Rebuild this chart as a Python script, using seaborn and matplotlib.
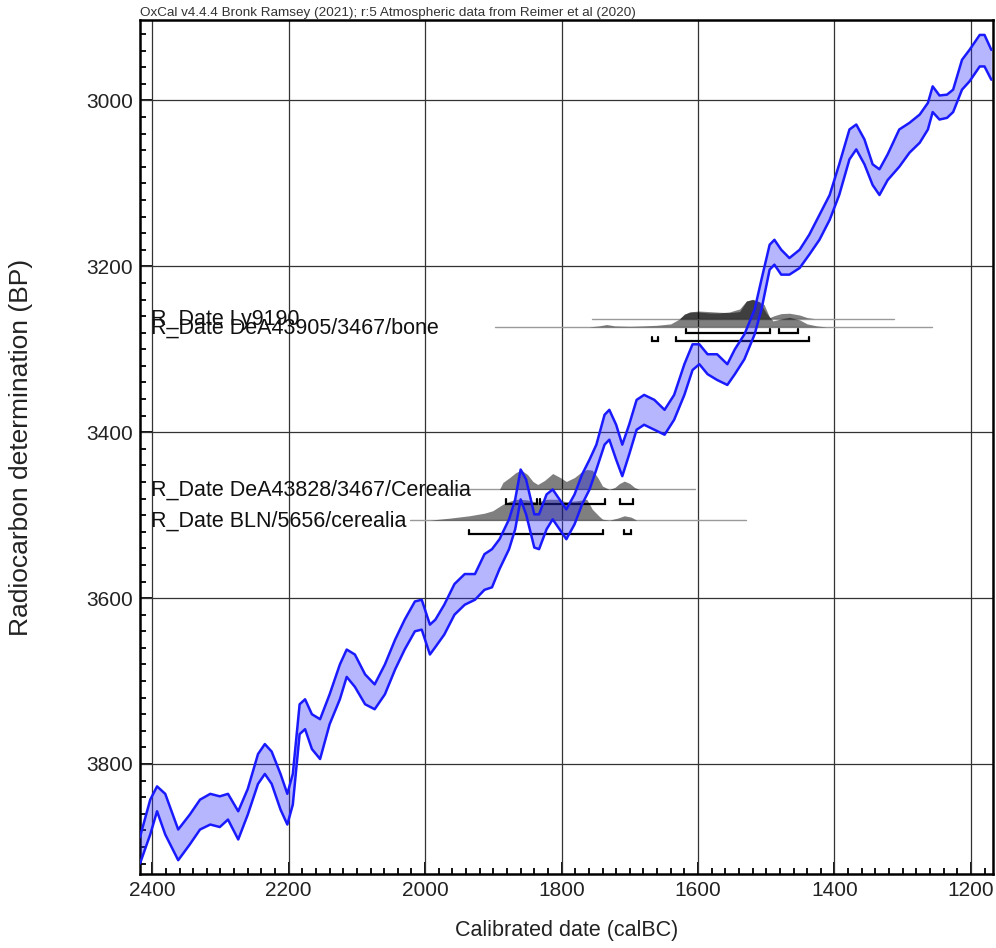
import numpy as np
import pandas as pd
import matplotlib
matplotlib.use("Agg")
import matplotlib.pyplot as plt
from matplotlib.ticker import MultipleLocator
import seaborn as sns

# IntCal20 calibration band (1 sigma), calBC vs radiocarbon age
cal_bc = [2418, 2403, 2393, 2381, 2362, 2345, 2330, 2315, 2301, 2289, 2274, 2260,
          2245, 2235, 2225, 2212, 2202, 2194, 2184, 2176, 2166, 2154, 2140, 2125,
          2115, 2103, 2088, 2074, 2059, 2044, 2030, 2015, 2005, 1993, 1985, 1972,
          1957, 1942, 1927, 1913, 1902, 1891, 1877, 1868, 1860, 1852, 1840, 1833,
          1822, 1813, 1803, 1793, 1781, 1770, 1759, 1749, 1737, 1730, 1720, 1711,
          1701, 1690, 1679, 1664, 1649, 1635, 1620, 1608, 1598, 1586, 1572, 1557,
          1546, 1532, 1517, 1507, 1495, 1488, 1478, 1466, 1451, 1437, 1422, 1407,
          1393, 1378, 1368, 1356, 1344, 1334, 1322, 1305, 1290, 1275, 1263, 1256,
          1246, 1235, 1226, 1213, 1202, 1187, 1180, 1170]
bp_young = [3888, 3843, 3827, 3836, 3879, 3861, 3843, 3836, 3839, 3836, 3857, 3830,
            3788, 3776, 3785, 3812, 3836, 3812, 3728, 3722, 3740, 3746, 3716, 3680,
            3662, 3668, 3692, 3704, 3680, 3650, 3626, 3604, 3602, 3632, 3626, 3608,
            3583, 3571, 3571, 3547, 3541, 3529, 3505, 3481, 3445, 3457, 3499, 3499,
            3475, 3469, 3481, 3493, 3475, 3451, 3433, 3415, 3379, 3373, 3391, 3415,
            3391, 3361, 3355, 3361, 3373, 3355, 3318, 3294, 3294, 3306, 3306, 3318,
            3300, 3282, 3252, 3216, 3174, 3168, 3180, 3190, 3180, 3162, 3138, 3114,
            3077, 3035, 3029, 3047, 3077, 3083, 3065, 3035, 3027, 3017, 3003, 2983,
            2994, 2993, 2987, 2951, 2939, 2921, 2921, 2939]
bp_old = [3920, 3885, 3857, 3885, 3916, 3897, 3879, 3873, 3876, 3867, 3891, 3861,
          3824, 3812, 3824, 3855, 3873, 3849, 3764, 3758, 3782, 3794, 3752, 3722,
          3695, 3707, 3728, 3734, 3716, 3686, 3662, 3640, 3638, 3668, 3659, 3644,
          3620, 3608, 3602, 3590, 3587, 3565, 3541, 3517, 3481, 3499, 3539, 3541,
          3517, 3505, 3517, 3529, 3511, 3487, 3469, 3445, 3415, 3409, 3433, 3453,
          3427, 3397, 3391, 3397, 3403, 3385, 3355, 3325, 3318, 3330, 3337, 3343,
          3330, 3312, 3282, 3252, 3204, 3198, 3210, 3210, 3202, 3186, 3168, 3144,
          3114, 3071, 3059, 3077, 3102, 3114, 3096, 3080, 3063, 3051, 3035, 3014,
          3023, 3021, 3014, 2987, 2977, 2959, 2959, 2975]

# Samples: name, measured age (BP), computation window (calBC)
sample_names = ["R_Date Ly9190", "R_Date DeA43905/3467/bone",
                "R_Date DeA43828/3467/Cerealia", "R_Date BLN/5656/cerealia"]
sample_bp = [3263, 3273, 3469, 3506]
window_start = [1756, 1897, 1990, 2022]
window_end = [1312, 1257, 1605, 1529]

# Calibrated probability distributions (relative probability)
dist_cal = [
    [1627, 1620, 1613, 1599, 1583, 1569, 1554, 1539, 1529, 1520, 1510, 1503,
     1495, 1488, 1478, 1466, 1451, 1440, 1429],
    [1760, 1745, 1734, 1722, 1700, 1680, 1660, 1640, 1627, 1620, 1610, 1599,
     1583, 1569, 1554, 1539, 1529, 1520, 1510, 1500, 1490, 1478, 1466, 1451,
     1440, 1426, 1412],
    [1891, 1886, 1876, 1867, 1859, 1850, 1842, 1835, 1825, 1813, 1802, 1793,
     1781, 1770, 1763, 1755, 1747, 1740, 1730, 1722, 1715, 1708, 1700, 1693, 1686],
    [1993, 1964, 1935, 1913, 1901, 1886, 1876, 1866, 1851, 1836, 1822, 1807,
     1793, 1778, 1763, 1755, 1745, 1740, 1730, 1718, 1708, 1698, 1690],
]
dist_prob = [
    [0, .2, .33, .38, .35, .32, .3, .35, .88, .97, .85, .7, .05, .15, .25, .27,
     .18, .05, 0],
    [0, .05, .12, .05, .03, .05, .08, .15, .4, .65, .75, .75, .7, .7, .75, .9,
     1.3, 1.37, 1.25, .7, .3, .4, .48, .35, .15, .05, 0],
    [0, .35, .6, .85, .97, .75, .4, .25, .45, .8, .6, .4, .6, .9, 1.0, .97, .6,
     .17, 0, .1, .3, .42, .3, .1, 0],
    [0, .1, .22, .35, .47, .8, .95, 1.05, 1.02, .9, 1.05, 1.05, .92, .97, 1.05,
     .55, .2, .05, 0, .1, .22, .15, 0],
]

# 95.4% ranges (calBC from, to)
ranges = [
    [(1617, 1494), (1482, 1453)],
    [(1667, 1659), (1632, 1437)],
    [(1881, 1836), (1831, 1737), (1714, 1695)],
    [(1936, 1740), (1709, 1698)],
]

header = "OxCal v4.4.4 Bronk Ramsey (2021); r:5 Atmospheric data from Reimer et al (2020)"

PROB_SCALE = 24      # BP units per unit relative probability
RANGE_OFFSET = 17    # range bars sit below the measured age
LABEL_OFFSET = 8

sns.set_theme(style="white")
plt.rcParams['font.family'] = ['Liberation Sans', 'DejaVu Sans']

fig = plt.figure(figsize=(9.96, 9.48), dpi=100)
ax = fig.add_axes([140 / 996, 1 - 874.3 / 948, (992.7 - 140) / 996, (874.3 - 20) / 948])

# grid
for x in range(1200, 2401, 200):
    ax.axvline(x, color="#333333", lw=0.9, zorder=1)
for y in range(3000, 3801, 200):
    ax.axhline(y, color="#333333", lw=0.9, zorder=1)

# distributions, baselines and ranges
for i, name in enumerate(sample_names):
    base = sample_bp[i]
    ax.plot([window_start[i], window_end[i]], [base, base], color="#9a9a9a", lw=1.0, zorder=2)
    c = np.array(dist_cal[i])
    p = np.array(dist_prob[i]) * PROB_SCALE
    ax.fill_between(c, base, base - p, color="black", alpha=0.5, lw=0, zorder=3)
    ry = base + RANGE_OFFSET
    for a, b in ranges[i]:
        ax.plot([a, a, b, b], [ry - 5, ry, ry, ry - 5], color="black", lw=1.6, zorder=4,
                solid_joinstyle="miter")
    ax.text(2402, base + LABEL_OFFSET, name, fontsize=15.5, color="#111111", zorder=6)

# calibration band
curve = pd.DataFrame({"cal": cal_bc, "young": bp_young, "old": bp_old})
ax.fill_between(curve["cal"], curve["young"], curve["old"], color="#3030ff", alpha=0.35,
                lw=0, zorder=5)
sns.lineplot(data=curve, x="cal", y="young", ax=ax, color="#1a1aff", lw=1.8, zorder=5,
             sort=False)
sns.lineplot(data=curve, x="cal", y="old", ax=ax, color="#1a1aff", lw=1.8, zorder=5,
             sort=False)

ax.set_xlim(2418, 1168)
ax.set_ylim(3933, 2903)
ax.xaxis.set_major_locator(MultipleLocator(200))
ax.xaxis.set_minor_locator(MultipleLocator(20))
ax.yaxis.set_major_locator(MultipleLocator(200))
ax.yaxis.set_minor_locator(MultipleLocator(20))
ax.tick_params(which="both", direction="in", color="black", width=1.3,
               bottom=True, left=True, top=False, right=False)
ax.tick_params(which="major", length=9, labelsize=15, pad=5, labelcolor="#222222")
ax.tick_params(which="minor", length=4.5)
for s in ax.spines.values():
    s.set_color("black")
    s.set_linewidth(1.8)

ax.set_xlabel("Calibrated date (calBC)", fontsize=15.5, color="#222222", labelpad=14)
ax.set_ylabel("Radiocarbon determination (BP)", fontsize=19, color="#222222", labelpad=0)
ax.yaxis.set_label_coords(-107 / 852.7, 0.5)

fig.text(140 / 996, 1 - 16 / 948, header, fontsize=9.7, color="#333333")

fig.savefig("out.png", dpi=100)
